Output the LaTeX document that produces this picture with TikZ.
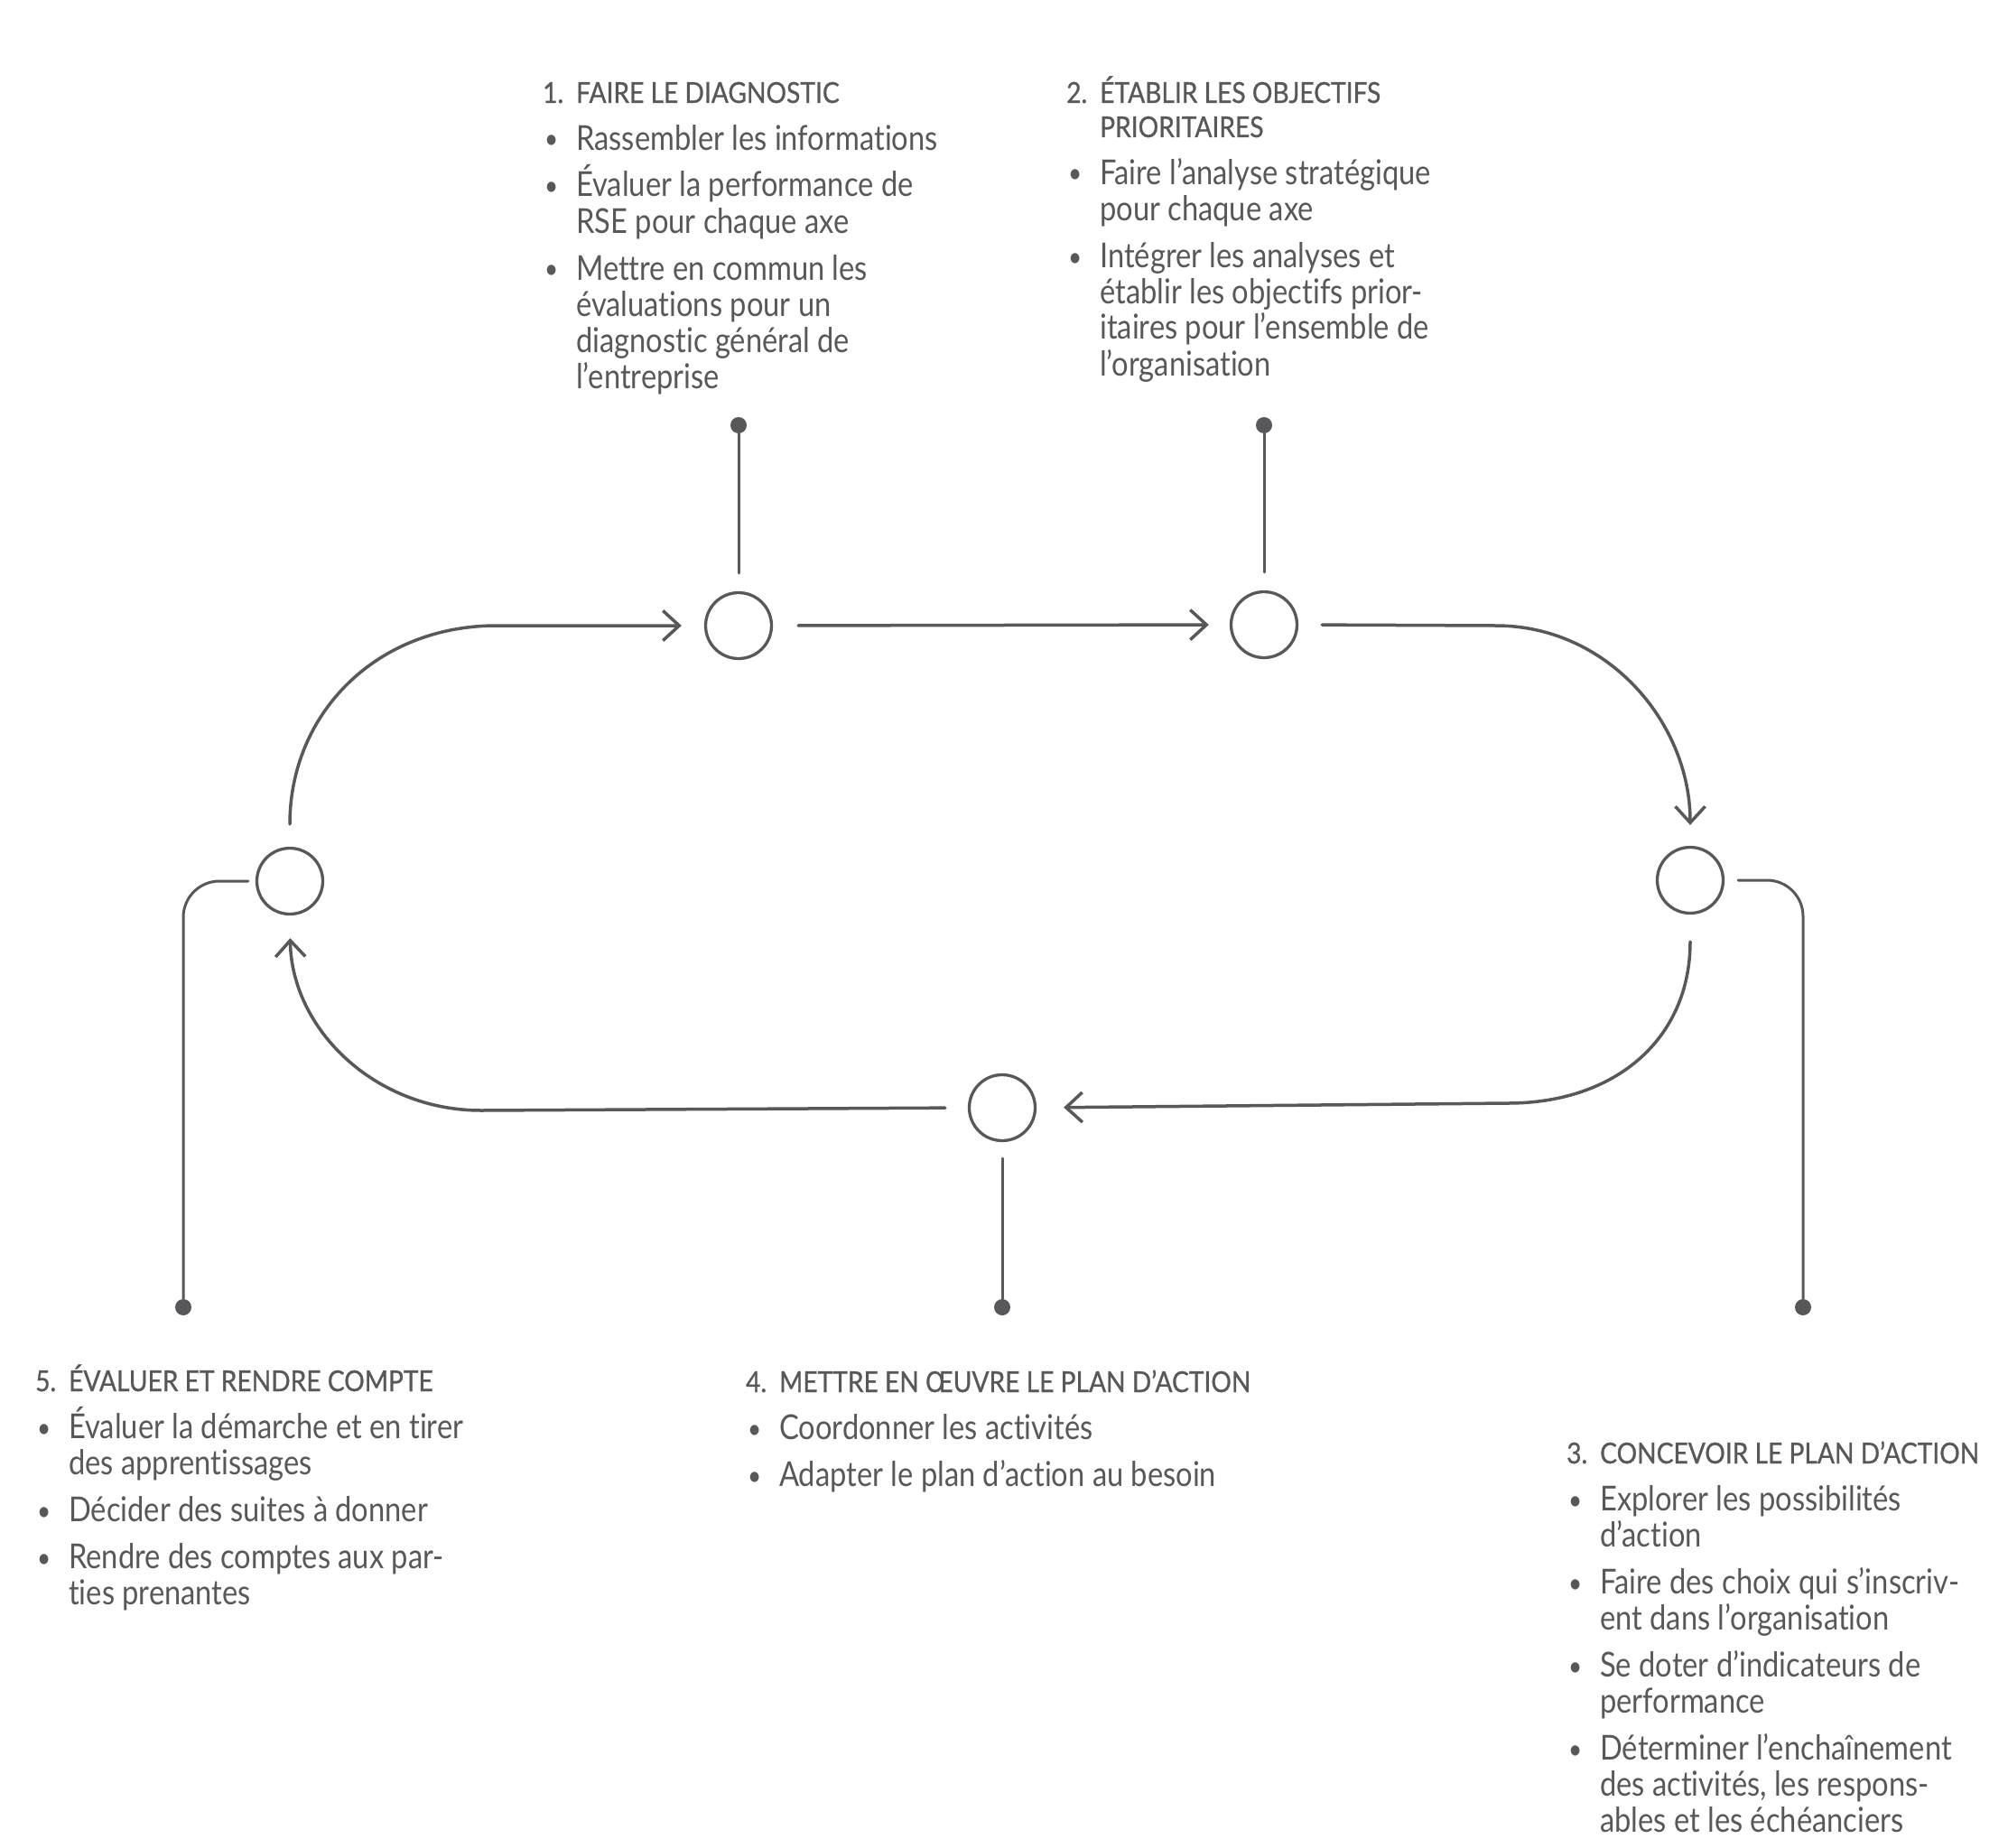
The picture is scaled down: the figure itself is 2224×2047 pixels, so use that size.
\documentclass[tikz,border=0pt]{standalone}
\usepackage{fontspec}
\setmainfont{Lato}[FakeStretch=0.86,Ligatures=NoCommon]
\newfontfamily\hdfont{Lato}[FakeStretch=0.88,FakeBold=0.8,Ligatures=NoCommon]
\usetikzlibrary{arrows.meta}
\definecolor{ink}{HTML}{58585A}
\newlength\hang
\setlength\hang{37pt}
\newcommand\blkstart{\fontsize{38}{40}\selectfont\parindent=0pt\parskip=12pt\relax}
\newcommand\hd[2]{{\hdfont\fontsize{32}{38}\selectfont\noindent\hangindent=\hang\hangafter=1\makebox[\hang][l]{#1}#2\par}}
\newcommand\bitem[1]{\noindent\hangindent=\hang\hangafter=1\makebox[\hang][l]{\hspace{2pt}\raisebox{1pt}{\scalebox{0.8}{\textbullet}}}#1\par}
\tikzset{
  txt/.style={anchor=base west, inner sep=0pt, text=ink},
  ring/.style={circle, draw=ink, line width=3.3pt, minimum size=73pt, inner sep=0pt},
  dotn/.style={circle, fill=ink, minimum size=18pt, inner sep=0pt},
  conn/.style={draw=ink, line width=3.5pt, line cap=round},
  tip/.style={-{Straight Barb[length=18pt,width=33pt]}},
  pin/.style={draw=ink, line width=3pt, line cap=round},
}
\begin{document}
\begin{tikzpicture}[x=1pt,y=-1pt]
\useasboundingbox (0,0) rectangle (2224,2047);
% circles
\node[ring] (c1) at (818,693) {};
\node[ring] (c2) at (1400,692) {};
\node[ring] (c3) at (1872,975) {};
\node[ring] (c4) at (1110,1227) {};
\node[ring] (c5) at (321,976) {};
% dots
\node[dotn] (d1) at (818,471) {};
\node[dotn] (d2) at (1400,471) {};
\node[dotn] (d3) at (1997,1448) {};
\node[dotn] (d4) at (1110,1448) {};
\node[dotn] (d5) at (203,1448) {};
% cycle connectors
\draw[conn,tip,shorten <=25pt,shorten >=25pt] (c5.north) .. controls (321,790) and (417,693) .. (550,693) -- (c1.west);
\draw[conn,tip,shorten <=28pt,shorten >=23pt] (c1.east) -- (c2.west);
\draw[conn,tip,shorten <=26pt,shorten >=23pt] (c2.east) -- (1657,693) .. controls (1780,693) and (1872,800) .. (c3.north);
\draw[conn,tip,shorten <=30pt,shorten >=30pt] (c3.south) .. controls (1872,1150) and (1790,1222) .. (1670,1222) -- (c4.east);
\draw[conn,tip,shorten <=25pt,shorten >=25pt] (c4.west) -- (533,1230) .. controls (415,1230) and (323,1140) .. (c5.south);
% pins
\draw[pin,shorten <=20pt] (c1.north) -- (d1);
\draw[pin,shorten <=20pt] (c2.north) -- (d2);
\draw[pin,shorten <=18pt] (c4.south) -- (d4);
\draw[pin,rounded corners=40pt,shorten <=8pt] (c5.west) -| (d5);
\draw[pin,rounded corners=40pt,shorten <=15pt] (c3.east) -| (d3);
% text blocks
\node[txt] (t1) at (601,114) {\parbox[t]{640pt}{\blkstart
\hd{1.}{FAIRE LE DIAGNOSTIC}
\bitem{Rassembler les informations}
\bitem{Évaluer la performance de\\RSE pour chaque axe}
\bitem{Mettre en commun les\\évaluations pour un\\diagnostic général de\\l’entreprise}}};
\node[txt] (t2) at (1181,114) {\parbox[t]{640pt}{\blkstart
\hd{2.}{ÉTABLIR LES OBJECTIFS\\PRIORITAIRES}
\bitem{Faire l’analyse stratégique\\pour chaque axe}
\bitem{Intégrer les analyses et\\établir les objectifs prior-\\itaires pour l’ensemble de\\l’organisation}}};
\node[txt] (t3) at (1735,1621) {\parbox[t]{640pt}{\blkstart
\hd{3.}{CONCEVOIR LE PLAN D’ACTION}
\bitem{Explorer les possibilités\\d’action}
\bitem{Faire des choix qui s’inscriv-\\ent dans l’organisation}
\bitem{Se doter d’indicateurs de\\performance}
\bitem{Déterminer l’enchaînement\\des activités, les respons-\\ables et les échéanciers}}};
\node[txt] (t4) at (826,1542) {\parbox[t]{640pt}{\blkstart
\hd{4.}{METTRE EN ŒUVRE LE PLAN D’ACTION}
\bitem{Coordonner les activités}
\bitem{Adapter le plan d’action au besoin}}};
\node[txt] (t5) at (39,1541) {\parbox[t]{640pt}{\blkstart
\hd{5.}{ÉVALUER ET RENDRE COMPTE}
\bitem{Évaluer la démarche et en tirer\\des apprentissages}
\bitem{Décider des suites à donner}
\bitem{Rendre des comptes aux par-\\ties prenantes}}};
\end{tikzpicture}
\end{document}
